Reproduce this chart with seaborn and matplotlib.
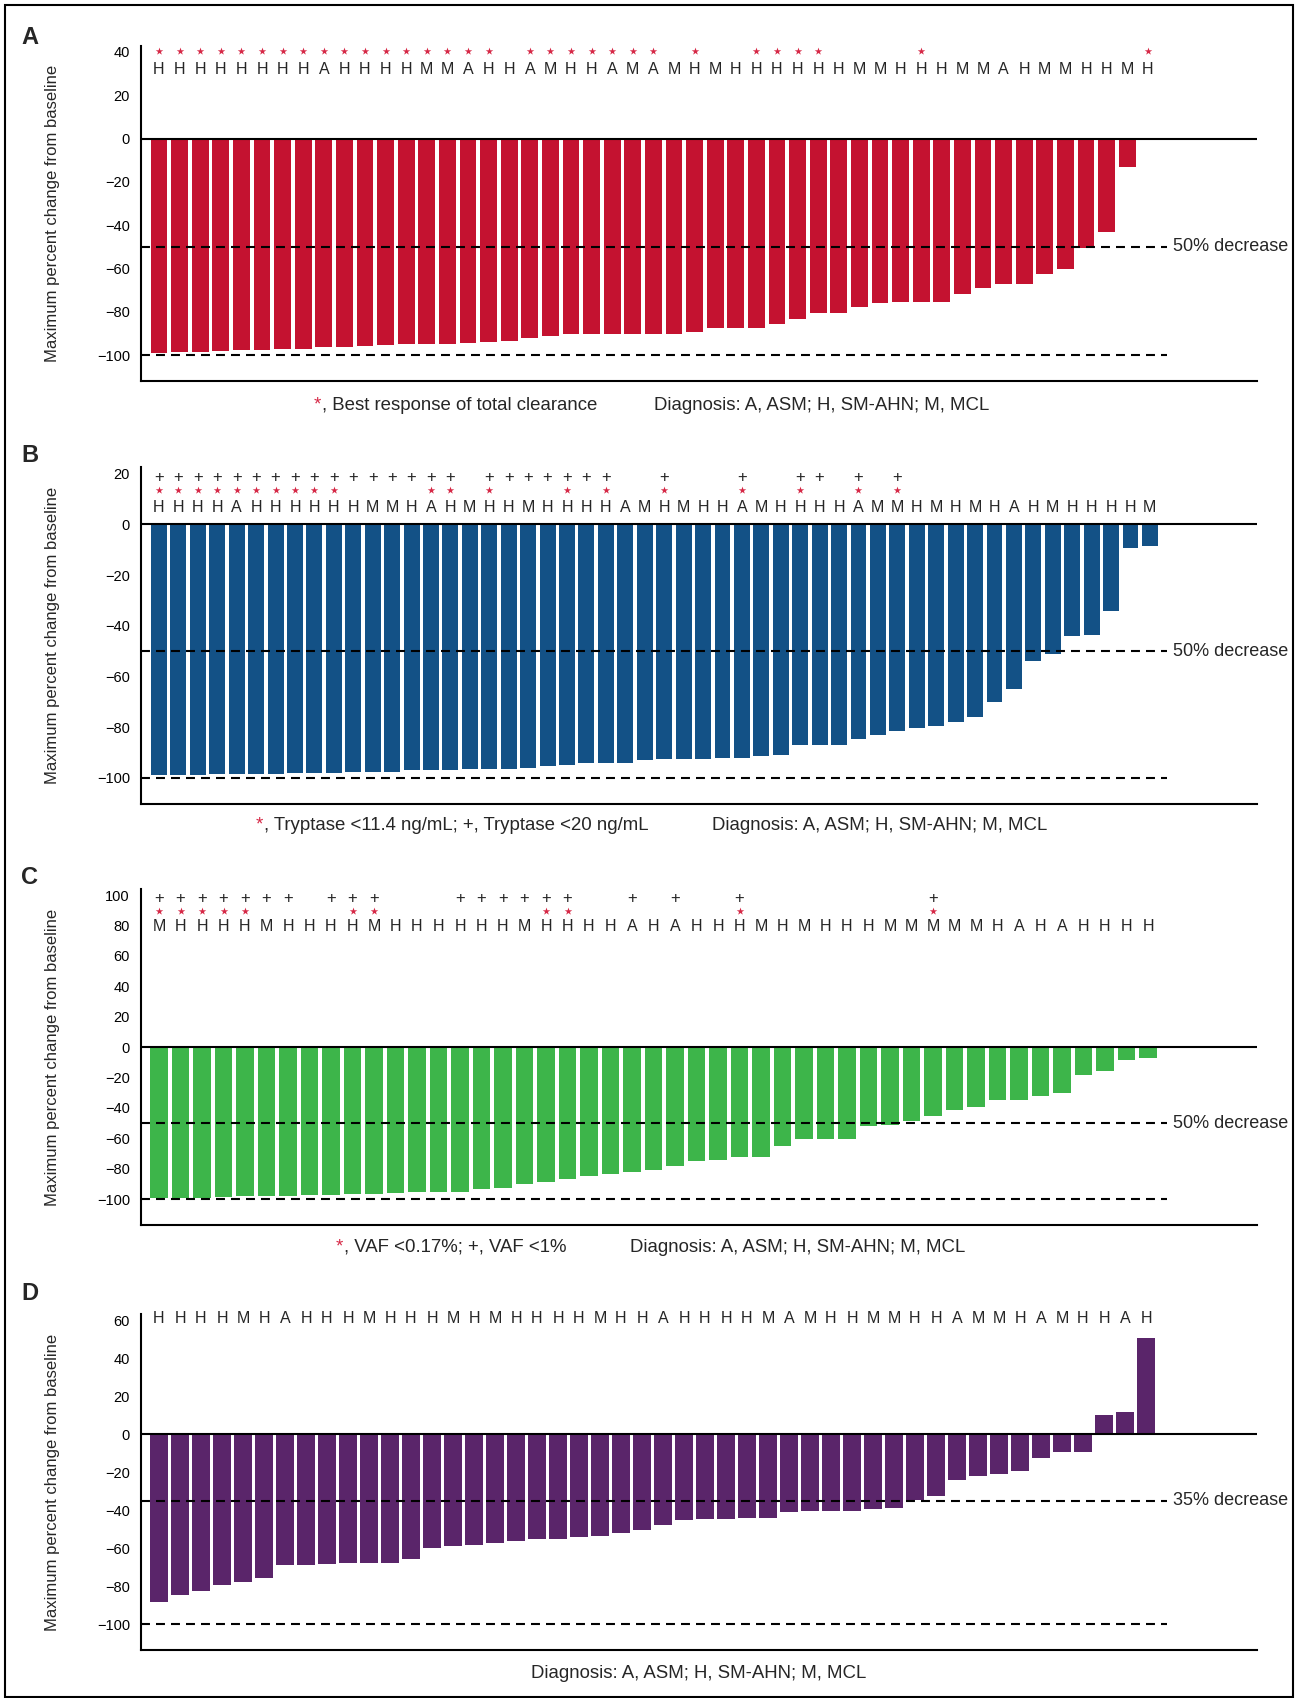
import numpy as np
import pandas as pd
import matplotlib
matplotlib.use("Agg")
import matplotlib.pyplot as plt
import matplotlib.transforms as mtransforms
from matplotlib.patches import Rectangle
import seaborn as sns

sns.set_style("white")
plt.rcParams["font.family"] = ["Liberation Sans", "DejaVu Sans"]

# ---------------- Panel A ----------------
a_values = [-99, -98.5, -98.5, -98, -97.5, -97.5, -97, -97, -96.5, -96.5,
            -96, -95.5, -95, -95, -95, -94.5, -94, -93.5, -92, -91,
            -90.5, -90.5, -90.5, -90.5, -90.5, -90.5, -89.5, -87.5, -87.5, -87.5,
            -85.5, -83.5, -80.5, -80.5, -78, -76, -75.4, -75.4, -75.4, -71.8,
            -68.9, -67.1, -67.1, -62.5, -60.2, -50.5, -43.1, -13.1, np.nan]
a_diagnosis = list("HHHHHHHHAHHHHMMAHHAMHHAMAMHMHHHHHHMMHHHMMAHMMHHMH")
a_star = [0, 1, 2, 3, 4, 5, 6, 7, 8, 9, 10, 11, 12, 13, 14, 15, 16,
          18, 19, 20, 21, 22, 23, 24, 26, 29, 30, 31, 32, 37, 48]

# ---------------- Panel B ----------------
b_values = [-99, -99, -99, -98.5, -98.5, -98.5, -98.5, -98, -98, -98,
            -97.5, -97.5, -97.5, -97, -97, -97, -96.5, -96.5, -96.5, -96,
            -95.5, -95, -94, -94, -94, -93, -92.5, -92.5, -92.5, -92,
            -92, -91.5, -91, -87, -87, -87, -84.5, -83, -81.5, -80.5,
            -79.5, -78, -76, -70, -65, -54, -51, -44, -43.5, -34,
            -9.5, -8.5]
b_diagnosis = list("HHHHAHHHHHHMMHAHMHHMHHHHAMHMHHAMHHHHAMMHMHMHAHMHHHHM")
b_star = [0, 1, 2, 3, 4, 5, 6, 7, 8, 9, 14, 15, 17, 21, 23, 26, 30, 33, 36, 38]
b_plus = [0, 1, 2, 3, 4, 5, 6, 7, 8, 9, 10, 11, 12, 13, 14, 15,
          17, 18, 19, 20, 21, 22, 23, 26, 30, 33, 34, 36, 38]

# ---------------- Panel C ----------------
c_values = [-99.5, -99.5, -99.5, -98.5, -98, -98, -98, -97, -97, -96.5,
            -96.5, -96, -95.5, -95.5, -95, -93.5, -92.5, -90, -89, -86.5,
            -84.5, -83.5, -82, -81, -78.5, -75, -74.5, -72, -72, -65,
            -60.5, -60.5, -60.5, -52, -51.5, -48.5, -45.5, -41.5, -39.5, -34.5,
            -34.5, -32, -30, -18.5, -15.5, -8.5, -7]
c_diagnosis = list("MHHHHMHHHHMHHHHHHMHHHHAHAHHHMHMHHHMMMMMHAHAHHHH")
c_star = [0, 1, 2, 3, 4, 9, 10, 18, 19, 27, 36]
c_plus = [0, 1, 2, 3, 4, 5, 6, 8, 9, 10, 14, 15, 16, 17, 18, 19, 22, 24, 27, 36]

# ---------------- Panel D ----------------
d_values = [-88.2, -84.6, -82.5, -79.3, -77.7, -75.6, -68.8, -68.8, -68.2, -67.7,
            -67.7, -67.7, -65.6, -59.8, -58.8, -58.2, -57.2, -56.1, -55.1, -55.1,
            -54.0, -53.5, -51.9, -50.4, -47.7, -45.1, -44.6, -44.6, -44.0, -44.0,
            -40.9, -40.4, -40.4, -40.4, -39.3, -38.8, -34.6, -32.5, -24, -22,
            -21, -19.5, -12.5, -9.5, -9.5, 10, 12, 51]
d_diagnosis = list("HHHHMHAHHHMHHHMHMHHHHMHHAHHHHMAMHHMMHHAMMHAMHHAH")

diagnosis_key = "Diagnosis: A, ASM; H, SM-AHN; M, MCL"

W, H = 1301, 1698
fig = plt.figure(figsize=(W / 100, H / 100), dpi=100)

def fx(px):
    return px / W

def fy(py):
    return 1 - py / H

STAR_RED = "#D62846"
AX_LEFT, AX_RIGHT = 141, 1257
FIRST_BAR = 159
DASH_END = (1167 - AX_LEFT) / (AX_RIGHT - AX_LEFT)
LABEL_X = (1173 - AX_LEFT) / (AX_RIGHT - AX_LEFT)

panels = [
    dict(tag="A", vals=a_values, diag=a_diagnosis, star=a_star, plus=None,
         color="#C41230", ylim=(-112, 43), ticks=[-100, -80, -60, -40, -20, 0, 20, 40],
         ref=-50, ref_label="50% decrease", top=45.5, bottom=381, step=20.6,
         letter_y=32.5, star_y=40.5, plus_y=None, tag_y=37),
    dict(tag="B", vals=b_values, diag=b_diagnosis, star=b_star, plus=b_plus,
         color="#135186", ylim=(-110.3, 22.6), ticks=[-100, -80, -60, -40, -20, 0, 20],
         ref=-50, ref_label="50% decrease", top=467, bottom=804, step=19.43,
         letter_y=7.3, star_y=13.7, plus_y=18.8, tag_y=455),
    dict(tag="C", vals=c_values, diag=c_diagnosis, star=c_star, plus=c_plus,
         color="#3DB54A", ylim=(-117, 104), ticks=[-100, -80, -60, -40, -20, 0, 20, 40, 60, 80, 100],
         ref=-50, ref_label="50% decrease", top=889, bottom=1225, step=21.5,
         letter_y=80, star_y=89.3, plus_y=98.6, tag_y=877),
    dict(tag="D", vals=d_values, diag=d_diagnosis, star=None, plus=None,
         color="#5A256A", ylim=(-113.7, 63.4), ticks=[-100, -80, -60, -40, -20, 0, 20, 40, 60],
         ref=-35, ref_label="35% decrease", top=1314, bottom=1650, step=21.0,
         letter_y=61.7, star_y=None, plus_y=None, tag_y=1294),
]

FS_TICK = 10.5
FS_LETTER = 11.5
FS_PLUS = 12
FS_REF = 13
FS_NOTE = 13.4

def tick_text(t):
    return f"\u2212{abs(t)}" if t < 0 else str(t)

for p in panels:
    ax = fig.add_axes([fx(AX_LEFT), fy(p["bottom"]), fx(AX_RIGHT - AX_LEFT),
                       (p["bottom"] - p["top"]) / H])
    n = len(p["vals"])
    df = pd.DataFrame({"patient": list(range(n)), "change": p["vals"]})
    sns.barplot(data=df, x="patient", y="change", order=list(range(n)),
                color=p["color"], saturation=1, width=0.82, errorbar=None,
                linewidth=0, ax=ax)

    left = -(FIRST_BAR - AX_LEFT) / p["step"]
    right = (AX_RIGHT - FIRST_BAR) / p["step"]
    ax.set_xlim(left, right)
    ax.set_ylim(*p["ylim"])
    ax.set_xticks([])
    ax.set_xlabel("")
    ax.set_yticks(p["ticks"])
    ax.set_yticklabels([tick_text(t) for t in p["ticks"]], fontsize=FS_TICK)
    ax.tick_params(axis="y", direction="out", length=5, width=1.3, pad=3, colors="black")
    for side in ("top", "right"):
        ax.spines[side].set_visible(False)
    for side in ("left", "bottom"):
        ax.spines[side].set_linewidth(1.5)
        ax.spines[side].set_color("black")

    ax.axhline(0, color="black", lw=1.5, zorder=3)
    ax.axhline(-100, xmin=0, xmax=DASH_END, color="black", lw=1.5,
               ls=(0, (4.3, 2.9)), zorder=3)
    ax.axhline(p["ref"], xmin=0, xmax=DASH_END, color="black", lw=1.5,
               ls=(0, (4.3, 2.9)), zorder=3)
    ax.text(LABEL_X, p["ref"], p["ref_label"], transform=ax.get_yaxis_transform(),
            fontsize=FS_REF, ha="left", va="center", clip_on=False)

    ax.set_ylabel("Maximum percent change from baseline",
                  fontfamily=["Liberation Sans Narrow", "Liberation Sans"], fontsize=12)
    ax.yaxis.set_label_coords(-0.0726, 0.5)

    # diagnosis letters and response markers above the bars
    letter_tr = mtransforms.offset_copy(ax.transData, fig=fig, y=-0.358 * FS_LETTER, units="points")
    for i, d in enumerate(p["diag"]):
        ax.text(i, p["letter_y"], d, transform=letter_tr, fontsize=FS_LETTER,
                ha="center", va="baseline", clip_on=False)
    if p["star"]:
        ax.scatter(p["star"], [p["star_y"]] * len(p["star"]), marker="*", s=32,
                   color=STAR_RED, linewidths=0, clip_on=False, zorder=4)
    if p["plus"]:
        plus_tr = mtransforms.offset_copy(ax.transData, fig=fig, y=-0.35 * FS_PLUS, units="points")
        for i in p["plus"]:
            ax.text(i, p["plus_y"], "+", transform=plus_tr, fontsize=FS_PLUS,
                    ha="center", va="baseline", clip_on=False)

    fig.text(fx(21), fy(p["tag_y"]), p["tag"], fontsize=17, fontweight="bold",
             ha="left", va="center")

# footnotes under each panel
fig.text(fx(314), fy(405), "*", color=STAR_RED, fontsize=FS_NOTE, ha="left", va="center")
fig.text(fx(322), fy(405), ", Best response of total clearance", fontsize=FS_NOTE, ha="left", va="center")
fig.text(fx(654), fy(405), diagnosis_key, fontsize=FS_NOTE, ha="left", va="center")

fig.text(fx(256), fy(825), "*", color=STAR_RED, fontsize=FS_NOTE, ha="left", va="center")
fig.text(fx(264), fy(825), ", Tryptase <11.4 ng/mL; +, Tryptase <20 ng/mL", fontsize=FS_NOTE,
         ha="left", va="center")
fig.text(fx(712), fy(825), diagnosis_key, fontsize=FS_NOTE, ha="left", va="center")

fig.text(fx(336), fy(1247), "*", color=STAR_RED, fontsize=FS_NOTE, ha="left", va="center")
fig.text(fx(344), fy(1247), ", VAF <0.17%; +, VAF <1%", fontsize=FS_NOTE, ha="left", va="center")
fig.text(fx(630), fy(1247), diagnosis_key, fontsize=FS_NOTE, ha="left", va="center")

fig.text(fx(699), fy(1674), diagnosis_key, fontsize=FS_NOTE, ha="center", va="center")

# outer frame
fig.add_artist(Rectangle((fx(5), fy(1697)), fx(1293 - 5), (1697 - 5) / H,
                         transform=fig.transFigure, fill=False, lw=1.5, ec="black"))

fig.savefig("out.png", dpi=100)
